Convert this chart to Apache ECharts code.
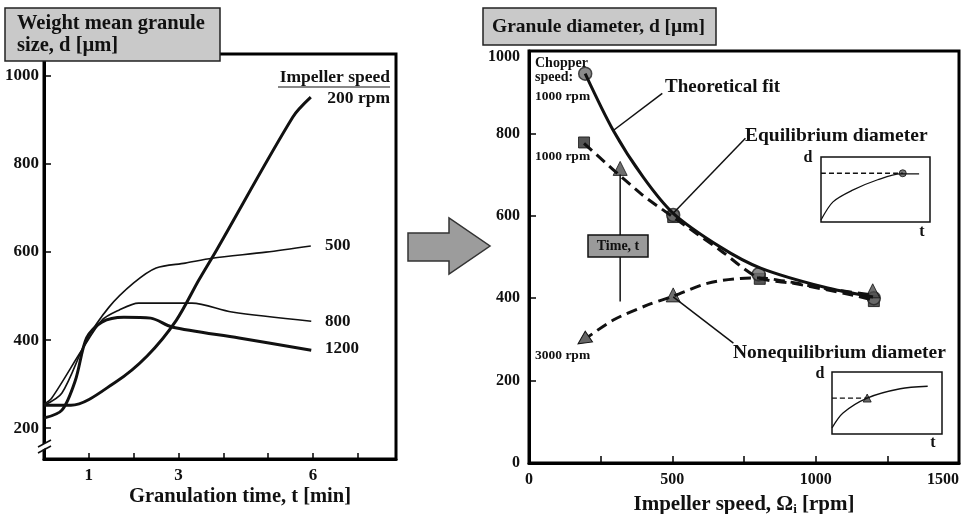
<!DOCTYPE html>
<html lang="en">
<head>
<meta charset="UTF-8">
<title>Granule size vs time and impeller speed</title>
<script src="https://cdn.jsdelivr.net/npm/echarts@6/dist/echarts.min.js"></script>
<style>
    html, body { margin: 0; padding: 0; background: #fff; }
    #charts { width: 968px; height: 514px; }
</style>
</head>
<body>
<div id="charts"></div>
<script>
    // ---- left panel: weight mean granule size vs granulation time ----
    var time200 = [0, 0.6, 1.6, 2.3, 2.95, 3.45, 3.85, 5.55, 5.95];
    var size200 = [252, 252, 305, 364, 445, 536, 605, 907, 952];
    var time500 = [0, 0.4, 0.95, 1.45, 2, 2.5, 3.15, 3.75, 4.95, 5.95];
    var size500 = [252, 280, 400, 475, 530, 564, 575, 586, 600, 614];
    var time800 = [0, 0.17, 0.84, 1.29, 1.67, 2.11, 3.3, 4.19, 5.96];
    var size800 = [255, 268, 377, 445, 468, 484, 484, 464, 443];
    var time1200 = [0, 0.4, 0.7, 0.95, 1.29, 1.78, 2.38, 2.85, 4.35, 5.96];
    var size1200 = [223, 241, 309, 405, 441, 452, 450, 430, 405, 377];
    var leftTicksX = [1, 2, 3, 4, 5, 6, 7];
    var leftLabelsX = [1, 3, 6];
    var leftTicksY = [200, 400, 600, 800, 1000];

    // ---- right panel: granule diameter vs impeller speed ----
    var fitSpeed = [196, 294, 399, 503, 668, 808, 1028, 1200];
    var fitDiam = [945, 807, 693, 606, 524, 473, 427, 403];
    var eqSpeed = [192, 388, 503, 668, 800, 923, 1133, 1203];
    var eqDiam = [776, 655, 597, 516, 450, 436, 407, 395];
    var neqSpeed = [190, 294, 412, 503, 622, 738, 801, 913, 1028, 1200];
    var neqDiam = [298, 347, 383, 405, 436, 448, 449, 439, 424, 408];
    var circleSpeed = [196, 503, 801, 1203];
    var circleDiam = [945, 602, 458, 400];
    var squareSpeed = [192, 503, 805, 1203];
    var squareDiam = [778, 597, 447, 393];
    var triSpeed = [318, 503, 1199];
    var triDiam = [715, 408, 418];
    var rightTicksX = [250, 500, 750, 1000, 1250];
    var rightLabelsX = [0, 500, 1000, 1500];

    // leader lines / time arrow (data coords)
    var fitLeader = [[294, 807], [465, 897]];
    var eqLeader = [[503, 606], [755, 788]];
    var neqLeader = [[503, 403], [713, 291]];
    var timeArrow = [[318, 392], [318, 700]];

    // ---- insets: d vs t sketches ----
    var inset1T = [0, 1.1, 2.9, 5.2, 7.3, 9.0];
    var inset1D = [0.3, 3.1, 4.9, 6.5, 7.4, 7.4];
    var inset1Dash = [[0, 7.5], [7.5, 7.5]];
    var inset2T = [0, 1, 3.2, 6.2, 8.7];
    var inset2D = [1, 3.4, 5.8, 7.3, 7.7];
    var inset2Dash = [[0, 5.8], [3.2, 5.8]];

    function zip(a, b) {
        return a.map(function (v, i) { return [v, b[i]]; });
    }
    function plain(v) { return String(v); }

    var serif = '"Liberation Serif", "DejaVu Serif", serif';

    function txt(text, x, y, size, align) {
        return {
            type: 'text', z: 100, x: x, y: y,
            style: {
                text: text, fill: '#111',
                font: 'bold ' + size + 'px ' + serif,
                textAlign: align || 'left', align: align || 'left',
                textVerticalAlign: 'middle', verticalAlign: 'middle'
            }
        };
    }
    function seg(x1, y1, x2, y2, w) {
        return { type: 'line', z: 100, shape: { x1: x1, y1: y1, x2: x2, y2: y2 }, style: { stroke: '#111', lineWidth: w || 1.5 } };
    }

    var myChart = echarts.init(document.getElementById('charts'));

    var thinLine = function (data, xi, w, dash) {
        return {
            type: 'line', xAxisIndex: xi, yAxisIndex: xi, data: data, smooth: 0.3,
            symbol: 'none', silent: true, animation: false,
            lineStyle: { color: '#111', width: w, type: dash || 'solid' }
        };
    };

    var neqData = zip(neqSpeed, neqDiam);
    neqData[0] = { value: neqData[0], symbol: 'triangle', symbolSize: 13, symbolRotate: 124,
        itemStyle: { color: '#666', borderColor: '#111', borderWidth: 1 } };

    var option = {
        backgroundColor: '#fff',
        animation: false,
        grid: [
            { left: 44, top: 54, width: 352, height: 405, show: true, borderColor: '#000', borderWidth: 3, outerBoundsMode: 'none', containLabel: false },
            { left: 529, top: 51, width: 430, height: 412, show: true, borderColor: '#000', borderWidth: 3, outerBoundsMode: 'none', containLabel: false },
            { left: 821, top: 157, width: 109, height: 65, show: true, borderColor: '#111', borderWidth: 1.5, backgroundColor: '#fff', outerBoundsMode: 'none' },
            { left: 832, top: 372, width: 110, height: 62, show: true, borderColor: '#111', borderWidth: 1.5, backgroundColor: '#fff', outerBoundsMode: 'none' }
        ],
        xAxis: [
            {
                gridIndex: 0, type: 'value', min: 0, max: 7.85,
                axisLine: { lineStyle: { color: '#000', width: 3 } },
                axisTick: { inside: true, length: 6, customValues: leftTicksX, lineStyle: { color: '#000', width: 1.5 } },
                axisLabel: { customValues: leftLabelsX, formatter: plain, margin: 8, color: '#111', fontFamily: serif, fontWeight: 'bold', fontSize: 17 },
                splitLine: { show: false }
            },
            {
                gridIndex: 1, type: 'value', min: 0, max: 1500,
                axisLine: { lineStyle: { color: '#000', width: 3 } },
                axisTick: { inside: true, length: 7, customValues: rightTicksX, lineStyle: { color: '#000', width: 1.5 } },
                axisLabel: { customValues: rightLabelsX, formatter: plain, alignMaxLabel: 'right', margin: 9, color: '#111', fontFamily: serif, fontWeight: 'bold', fontSize: 16 },
                splitLine: { show: false },
                name: '{n|Impeller speed, Ω}{s|i}{n| [rpm]}', nameLocation: 'middle', nameGap: 30,
                nameTextStyle: {
                    rich: {
                        n: { color: '#111', fontFamily: serif, fontWeight: 'bold', fontSize: 21 },
                        s: { color: '#111', fontFamily: serif, fontWeight: 'bold', fontSize: 13, verticalAlign: 'bottom', padding: [10, 0, 0, 0] }
                    }
                }
            },
            { gridIndex: 2, type: 'value', min: 0, max: 10, show: false },
            { gridIndex: 3, type: 'value', min: 0, max: 10, show: false }
        ],
        yAxis: [
            {
                gridIndex: 0, type: 'value', min: 130, max: 1050,
                axisLine: { lineStyle: { color: '#000', width: 3 } },
                axisTick: { inside: true, length: 7, customValues: leftTicksY, lineStyle: { color: '#000', width: 1.5 } },
                axisLabel: { customValues: leftTicksY, formatter: plain, margin: 5, color: '#111', fontFamily: serif, fontWeight: 'bold', fontSize: 17 },
                splitLine: { show: false }
            },
            {
                gridIndex: 1, type: 'value', min: 0, max: 1000, interval: 200,
                axisLine: { lineStyle: { color: '#000', width: 3 } },
                axisTick: { inside: true, length: 7, lineStyle: { color: '#000', width: 1.5 } },
                axisLabel: {
                    margin: 9, color: '#111', fontFamily: serif, fontWeight: 'bold', fontSize: 16,
                    // top label sits a little below the frame corner
                    formatter: function (v) { return v === 1000 ? '{top|1000}' : String(v); },
                    rich: { top: { color: '#111', fontFamily: serif, fontWeight: 'bold', fontSize: 16, padding: [12, 0, 0, 0] } }
                },
                splitLine: { show: false }
            },
            { gridIndex: 2, type: 'value', min: 0, max: 10, show: false },
            { gridIndex: 3, type: 'value', min: 0, max: 10, show: false }
        ],
        series: [
            thinLine(zip(time500, size500), 0, 1.6),
            thinLine(zip(time800, size800), 0, 1.6),
            thinLine(zip(time200, size200), 0, 3),
            thinLine(zip(time1200, size1200), 0, 3),

            thinLine(fitLeader, 1, 1.5),
            thinLine(eqLeader, 1, 1.5),
            thinLine(neqLeader, 1, 1.5),
            thinLine(timeArrow, 1, 1.5),
            thinLine(zip(fitSpeed, fitDiam), 1, 3),
            thinLine(zip(eqSpeed, eqDiam), 1, 3, [11, 6]),
            {
                type: 'line', xAxisIndex: 1, yAxisIndex: 1, data: neqData, smooth: 0.3,
                symbol: 'none', showSymbol: true, silent: true,
                lineStyle: { color: '#111', width: 3, type: [11, 6] }
            },
            {
                type: 'scatter', xAxisIndex: 1, yAxisIndex: 1, symbol: 'rect', symbolSize: 11,
                data: zip(squareSpeed, squareDiam),
                itemStyle: { color: '#2a2a2a', borderColor: '#111', borderWidth: 1 }
            },
            {
                type: 'scatter', xAxisIndex: 1, yAxisIndex: 1, symbol: 'circle', symbolSize: 13,
                data: zip(circleSpeed, circleDiam),
                itemStyle: { color: '#6e6e6e', borderColor: '#222', borderWidth: 1.5 }
            },
            {
                type: 'scatter', xAxisIndex: 1, yAxisIndex: 1, symbol: 'triangle', symbolSize: 14,
                data: zip(triSpeed, triDiam),
                itemStyle: { color: '#4a4a4a', borderColor: '#111', borderWidth: 1 }
            },

            thinLine(zip(inset1T, inset1D), 2, 1.3),
            thinLine(inset1Dash, 2, 1.3, [5, 3]),
            {
                type: 'scatter', xAxisIndex: 2, yAxisIndex: 2, symbol: 'circle', symbolSize: 7,
                data: [inset1Dash[1]], itemStyle: { color: '#555', borderColor: '#111', borderWidth: 1 }
            },
            thinLine(zip(inset2T, inset2D), 3, 1.3),
            thinLine(inset2Dash, 3, 1.3, [5, 3]),
            {
                type: 'scatter', xAxisIndex: 3, yAxisIndex: 3, symbol: 'triangle', symbolSize: 8,
                data: [inset2Dash[1]], itemStyle: { color: '#444', borderColor: '#111', borderWidth: 1 }
            }
        ],
        graphic: [
            // title boxes
            { type: 'rect', z: 100, shape: { x: 5, y: 8, width: 215, height: 53 }, style: { fill: '#c9c9c9', stroke: '#222', lineWidth: 1.5 } },
            txt('Weight mean granule', 17, 24, 20.5),
            txt('size, d [µm]', 17, 46, 20.5),
            { type: 'rect', z: 100, shape: { x: 483, y: 8, width: 233, height: 37 }, style: { fill: '#c9c9c9', stroke: '#222', lineWidth: 1.5 } },
            txt('Granule diameter, d [µm]', 492, 27, 19.5),

            // block arrow between panels
            { type: 'polygon', z: 100, shape: { points: [[408, 233], [449, 233], [449, 218], [490, 246], [449, 274], [449, 261], [408, 261]] },
              style: { fill: '#9c9c9c', stroke: '#333', lineWidth: 1.5 } },

            // left panel labels
            txt('Impeller speed', 390, 77, 17.5, 'right'),
            seg(278, 87, 390, 87, 1.2),
            txt('200 rpm', 390, 98, 17.5, 'right'),
            txt('500', 325, 246, 17),
            txt('800', 325, 322, 17),
            txt('1200', 325, 349, 17),
            txt('Granulation time, t [min]', 240, 497, 20.5, 'center'),

            // axis break on left y axis
            { type: 'polygon', z: 100, shape: { points: [[38, 447], [51, 440], [51, 445], [38, 452]] }, style: { fill: '#fff' } },
            seg(38, 447, 51, 440, 1.5),
            seg(38, 453, 51, 446, 1.5),

            // right panel labels
            txt('Chopper', 535, 63, 14),
            txt('speed:', 535, 77, 14),
            txt('1000 rpm', 535, 97, 13.5),
            txt('1000 rpm', 535, 157, 13.5),
            txt('3000 rpm', 535, 356, 13.5),
            txt('Theoretical fit', 665, 87, 19),
            txt('Equilibrium diameter', 745, 136, 19.5),
            txt('Nonequilibrium diameter', 733, 353, 19.5),
            { type: 'rect', z: 100, shape: { x: 588, y: 235, width: 60, height: 22 }, style: { fill: '#9a9a9a', stroke: '#111', lineWidth: 1.5 } },
            txt('Time, t', 618, 246, 14, 'center'),

            // inset axis letters
            txt('d', 808, 158, 16, 'center'),
            txt('t', 922, 232, 16, 'center'),
            txt('d', 820, 374, 16, 'center'),
            txt('t', 933, 443, 16, 'center')
        ]
    };

    myChart.setOption(option);
</script>
</body>
</html>
